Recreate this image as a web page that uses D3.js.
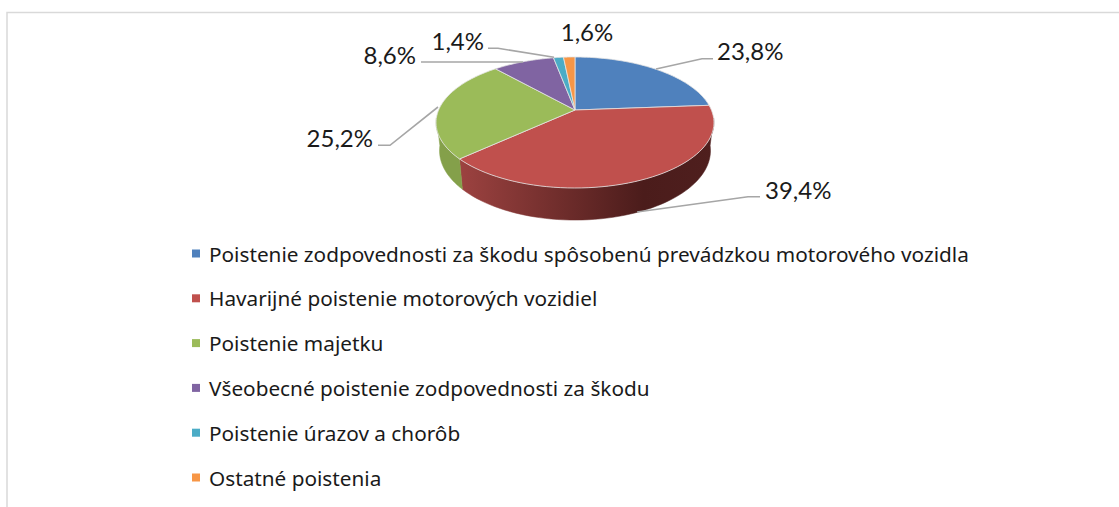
<!DOCTYPE html>
<html lang="sk">
<head>
<meta charset="UTF-8">
<script src="https://d3js.org/d3.v7.min.js"></script>
<style>
  html, body { margin: 0; padding: 0; background: #fff; }
  svg { display: block; }
  text { fill: #1a1a1a; }
  .data-label { font-family: Lato, sans-serif; }
  .legend text { font-family: "Noto Sans", sans-serif; }
</style>
</head>
<body>
<svg id="chart" width="1119" height="507"></svg>
<script>
const categories = [
  "Poistenie zodpovednosti za škodu spôsobenú prevádzkou motorového vozidla",
  "Havarijné poistenie motorových vozidiel",
  "Poistenie majetku",
  "Všeobecné poistenie zodpovednosti za škodu",
  "Poistenie úrazov a chorôb",
  "Ostatné poistenia"
];
const values = [23.8, 39.4, 25.2, 8.6, 1.4, 1.6];
const colors = ["#4f81bd", "#c0504d", "#9bbb59", "#8064a2", "#4bacc6", "#f79646"];
const wallColors = ["#3b618e", "#903c3a", "#84a04a", "#604b7a", "#38819a", "#b97034"];

// label anchors and leader elbows, in pixels
const labelPos = [[717, 60, "start"], [765, 199, "start"], [373, 147, "end"], [416, 64, "end"], [484, 50, "end"], [587, 41, "middle"]];
const leaders = [
  [[656, 69], [702, 58.7], [713, 58.7]],
  [[637, 212], [748, 196.7], [760, 196.7]],
  [[438, 107], [390, 145.3], [378, 145.3]],
  [[523, 62], [421, 62]],
  [[554, 57.3], [498, 48.3], [488, 48.3]],
  null
];

const svg = d3.select("#chart");
const cx = 575, cy = 110;
const k = 0.191, A = 136.4, B = 63.1;

// tilted disc: perspective projection of a unit circle
function topPt(a, r = 1) {
  const u = r * Math.sin(a), v = -r * Math.cos(a), w = 1 - k * v;
  return [cx + A * u / w, cy + B * v / w];
}
function bottomPt(a) {
  const u = Math.sin(a), v = -Math.cos(a), w = 1 - k * v;
  return [cx + 0.975 * A * u / w, cy + 27.4 + 1.06 * B * v / w];
}

const arcs = d3.pie().sort(null)(values);
const line = d3.line();
const angleSteps = (a0, a1) => d3.range(0, 61).map(i => a0 + (a1 - a0) * i / 60);

const defs = svg.append("defs");
const wallGrad = defs.append("linearGradient")
  .attr("id", "redWall")
  .attr("gradientUnits", "userSpaceOnUse")
  .attr("x1", 460).attr("x2", 715).attr("y1", 0).attr("y2", 0);
wallGrad.append("stop").attr("offset", "0").attr("stop-color", "#9c4240");
wallGrad.append("stop").attr("offset", "0.72").attr("stop-color", "#4b1c1b");
wallGrad.append("stop").attr("offset", "1").attr("stop-color", "#4f1f1e");

// chart frame, cut off on the bottom and right
svg.append("path")
  .attr("d", "M7,507V12.5H1119")
  .attr("fill", "none")
  .attr("stroke", "#d9d9d9")
  .attr("stroke-width", 1.5);

// side walls: only the front half of the disc shows one
const front0 = Math.PI / 2 + 0.12, front1 = 3 * Math.PI / 2 - 0.12;
arcs.forEach((d, i) => {
  const a0 = Math.max(d.startAngle, front0), a1 = Math.min(d.endAngle, front1);
  if (a1 <= a0) return;
  const steps = angleSteps(a0, a1);
  const pts = steps.map(a => topPt(a)).concat(steps.slice().reverse().map(a => bottomPt(a)));
  svg.append("path")
    .attr("d", line(pts) + "Z")
    .attr("fill", i === 1 ? "url(#redWall)" : wallColors[i])
    .attr("stroke", i === 1 ? "url(#redWall)" : wallColors[i])
    .attr("stroke-width", 0.5);
});

// top face
svg.selectAll("path.slice")
  .data(arcs)
  .enter()
  .append("path")
  .attr("class", "slice")
  .attr("d", d => line([[cx, cy]].concat(angleSteps(d.startAngle, d.endAngle).map(a => topPt(a)))) + "Z")
  .attr("fill", (d, i) => colors[i])
  .attr("stroke", "#e4e4e4")
  .attr("stroke-width", 0.8)
  .attr("stroke-linejoin", "round");

// leader lines
leaders.forEach(pts => {
  if (!pts) return;
  svg.append("path")
    .attr("d", line(pts))
    .attr("fill", "none")
    .attr("stroke", "#a6a6a6")
    .attr("stroke-width", 1.6);
});

// data labels
svg.selectAll("text.data-label")
  .data(values)
  .enter()
  .append("text")
  .attr("class", "data-label")
  .attr("x", (d, i) => labelPos[i][0])
  .attr("y", (d, i) => labelPos[i][1])
  .attr("text-anchor", (d, i) => labelPos[i][2])
  .attr("font-size", "24px")
  .text(d => d.toFixed(1).replace(".", ",") + "%");

// legend
const legendY = d3.scalePoint().domain(categories).range([253.5, 477.5]);
const legend = svg.selectAll("g.legend")
  .data(categories)
  .enter()
  .append("g")
  .attr("class", "legend")
  .attr("transform", d => `translate(192,${legendY(d)})`);
legend.append("rect")
  .attr("y", -4)
  .attr("width", 8)
  .attr("height", 8)
  .attr("fill", (d, i) => colors[i]);
legend.append("text")
  .attr("x", 17)
  .attr("y", 8)
  .attr("font-size", "20.75px")
  .text(d => d);
</script>
</body>
</html>
